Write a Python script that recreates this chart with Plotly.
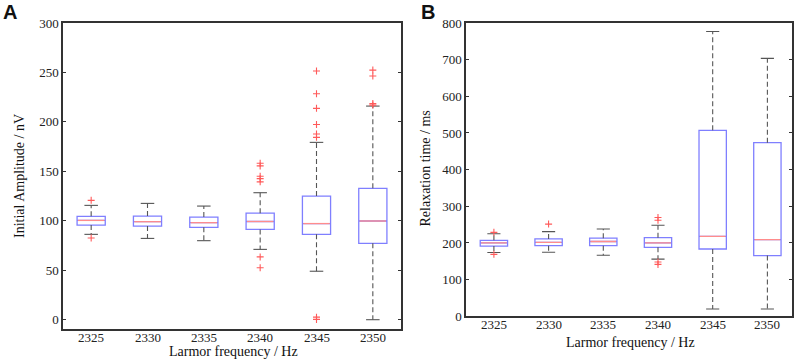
import plotly.graph_objects as go

# ---------------- data ----------------
freqs = [2325, 2330, 2335, 2340, 2345, 2350]
tick_labels = ["2325", "2330", "2335", "2340", "2345", "2350"]

# Panel A: initial amplitude (nV)
amp_q1 = [95.7, 94.7, 93.4, 91.3, 86.3, 77.2]
amp_med = [100.4, 99.1, 98.1, 99.3, 97.2, 99.8]
amp_q3 = [104.5, 104.8, 103.8, 107.7, 125.0, 132.8]
amp_lo = [86.3, 82.2, 79.9, 71.1, 49.0, 0.0]
amp_hi = [115.6, 117.6, 114.9, 128.4, 179.3, 216.0]
amp_out_x = [2325, 2325,
             2340, 2340, 2340, 2340, 2340, 2340, 2340,
             2345, 2345, 2345, 2345, 2345, 2345, 2345, 2345,
             2350, 2350, 2350, 2350]
amp_out_y = [120.7, 82.6,
             158.2, 155.5, 145.0, 142.6, 139.4, 63.5, 52.6,
             251.4, 228.5, 213.7, 197.4, 187.7, 184.4, 2.6, 0.3,
             252.4, 246.4, 218.5, 217.0]

# Panel B: relaxation time (ms)
rel_q1 = [191.5, 192.5, 192.5, 188.2, 183.6, 165.5]
rel_med = [200.5, 201.5, 204.0, 200.5, 218.2, 209.0]
rel_q3 = [207.3, 211.0, 213.0, 214.5, 507.3, 473.6]
rel_lo = [174.0, 174.5, 166.4, 156.0, 20.0, 20.0]
rel_hi = [225.0, 231.0, 238.2, 248.2, 777.0, 703.6]
rel_out_x = [2325, 2325, 2330, 2340, 2340, 2340, 2340]
rel_out_y = [229.0, 169.0, 251.5, 269.5, 262.0, 148.2, 141.5]

# ---------------- style ----------------
BOX_W = 2.5
CAP_HALF = 0.6
BLUE = "#7f7fff"
RED_MED = "#ff8c8c"
RED_OUT = "#ff5a5a"
GRAY = "#555555"
FRAME = "#333333"
SERIF = "Liberation Serif"

fig = go.Figure()


def add_panel(xa, ya, q1, med, q3, lo, hi, ox, oy):
    # dashed whiskers
    wx, wy = [], []
    for f, a, b, c, d in zip(freqs, q1, q3, lo, hi):
        wx += [f, f, None, f, f, None]
        wy += [b, d, None, a, c, None]
    fig.add_trace(go.Scatter(x=wx, y=wy, mode="lines", xaxis=xa, yaxis=ya,
                             line=dict(color=GRAY, width=1.1, dash="5px,3px"),
                             showlegend=False, hoverinfo="skip"))
    # caps
    cx, cy = [], []
    for f, c, d in zip(freqs, lo, hi):
        cx += [f - CAP_HALF, f + CAP_HALF, None, f - CAP_HALF, f + CAP_HALF, None]
        cy += [d, d, None, c, c, None]
    fig.add_trace(go.Scatter(x=cx, y=cy, mode="lines", xaxis=xa, yaxis=ya,
                             line=dict(color=GRAY, width=1.1),
                             showlegend=False, hoverinfo="skip"))
    # boxes
    fig.add_trace(go.Box(x=freqs, q1=q1, median=med, q3=q3,
                         lowerfence=q1, upperfence=q3, orientation="v",
                         width=BOX_W, whiskerwidth=0, xaxis=xa, yaxis=ya,
                         line=dict(color=BLUE, width=1.3),
                         fillcolor="rgba(255,255,255,1)",
                         boxpoints=False, showlegend=False))
    # medians
    mx, my = [], []
    for f, m in zip(freqs, med):
        mx += [f - BOX_W / 2 + 0.08, f + BOX_W / 2 - 0.08, None]
        my += [m, m, None]
    fig.add_trace(go.Scatter(x=mx, y=my, mode="lines", xaxis=xa, yaxis=ya,
                             line=dict(color=RED_MED, width=1.3),
                             showlegend=False, hoverinfo="skip"))
    # outliers
    fig.add_trace(go.Scatter(x=ox, y=oy, mode="markers", xaxis=xa, yaxis=ya,
                             marker=dict(symbol="cross-thin-open", size=5, color=RED_OUT,
                                         line=dict(color=RED_OUT, width=1.1)),
                             showlegend=False))


add_panel("x", "y", amp_q1, amp_med, amp_q3, amp_lo, amp_hi, amp_out_x, amp_out_y)
add_panel("x2", "y2", rel_q1, rel_med, rel_q3, rel_lo, rel_hi, rel_out_x, rel_out_y)

W, H = 796, 359

xcommon = dict(tickmode="array", tickvals=freqs, showticklabels=False,
               ticks="", showline=True, mirror=True, linecolor=FRAME, linewidth=1.5,
               showgrid=False, zeroline=False, automargin=False)
ycommon = dict(ticks="inside", ticklen=3, tickcolor=FRAME, showline=True, mirror="ticks",
               linecolor=FRAME, linewidth=1.5, showgrid=False, zeroline=False,
               automargin=False,
               tickfont=dict(family=SERIF, size=13, color="#222"))


def ann(text, x, y, size, family, angle=0):
    return dict(text=text, x=x / W, y=1 - y / H, xref="paper", yref="paper",
                xanchor="center", yanchor="middle", textangle=angle, showarrow=False,
                font=dict(family=family, size=size, color="#111"))


annotations = [
    ann("<b>A</b>", 10, 12, 20, "Liberation Sans"),
    ann("<b>B</b>", 428, 12, 20, "Liberation Sans"),
    ann("Initial Amplitude / nV", 20, 176, 14, SERIF, -90),
    ann("Relaxation time / ms", 425, 168.5, 14, SERIF, -90),
    ann("Larmor frequency / Hz", 233, 351.5, 14, SERIF),
    ann("Larmor frequency / Hz", 630, 342.5, 14, SERIF),
]
# category tick labels placed through each panel's x axis
for xref, ypix in (("x", 337.5), ("x2", 324.5)):
    for f, lab in zip(freqs, tick_labels):
        annotations.append(dict(text=lab, x=f, xref=xref, y=1 - ypix / H, yref="paper",
                                xanchor="center", yanchor="middle", showarrow=False,
                                font=dict(family=SERIF, size=13, color="#222")))

fig.update_layout(
    template="none",
    width=W, height=H,
    margin=dict(l=0, r=0, t=0, b=0, pad=0),
    paper_bgcolor="white", plot_bgcolor="white",
    boxmode="overlay", showlegend=False,
    xaxis=dict(domain=[63 / W, 401 / W], range=[2322.5, 2352.5], anchor="y", **xcommon),
    yaxis=dict(domain=[(H - 329) / H, (H - 23) / H], range=[-9.4, 300], anchor="x",
               tickvals=[0, 50, 100, 150, 200, 250, 300], **ycommon),
    xaxis2=dict(domain=[466 / W, 792 / W], range=[2322.45, 2352.25], anchor="y2", **xcommon),
    yaxis2=dict(domain=[(H - 316.3) / H, (H - 23) / H], range=[0, 800], anchor="x2",
                tickvals=[0, 100, 200, 300, 400, 500, 600, 700, 800], **ycommon),
    annotations=annotations,
)

fig.write_html("out.html",
               config={"displayModeBar": False},
               post_script="document.body.style.margin='0';document.body.style.overflow='hidden';")
